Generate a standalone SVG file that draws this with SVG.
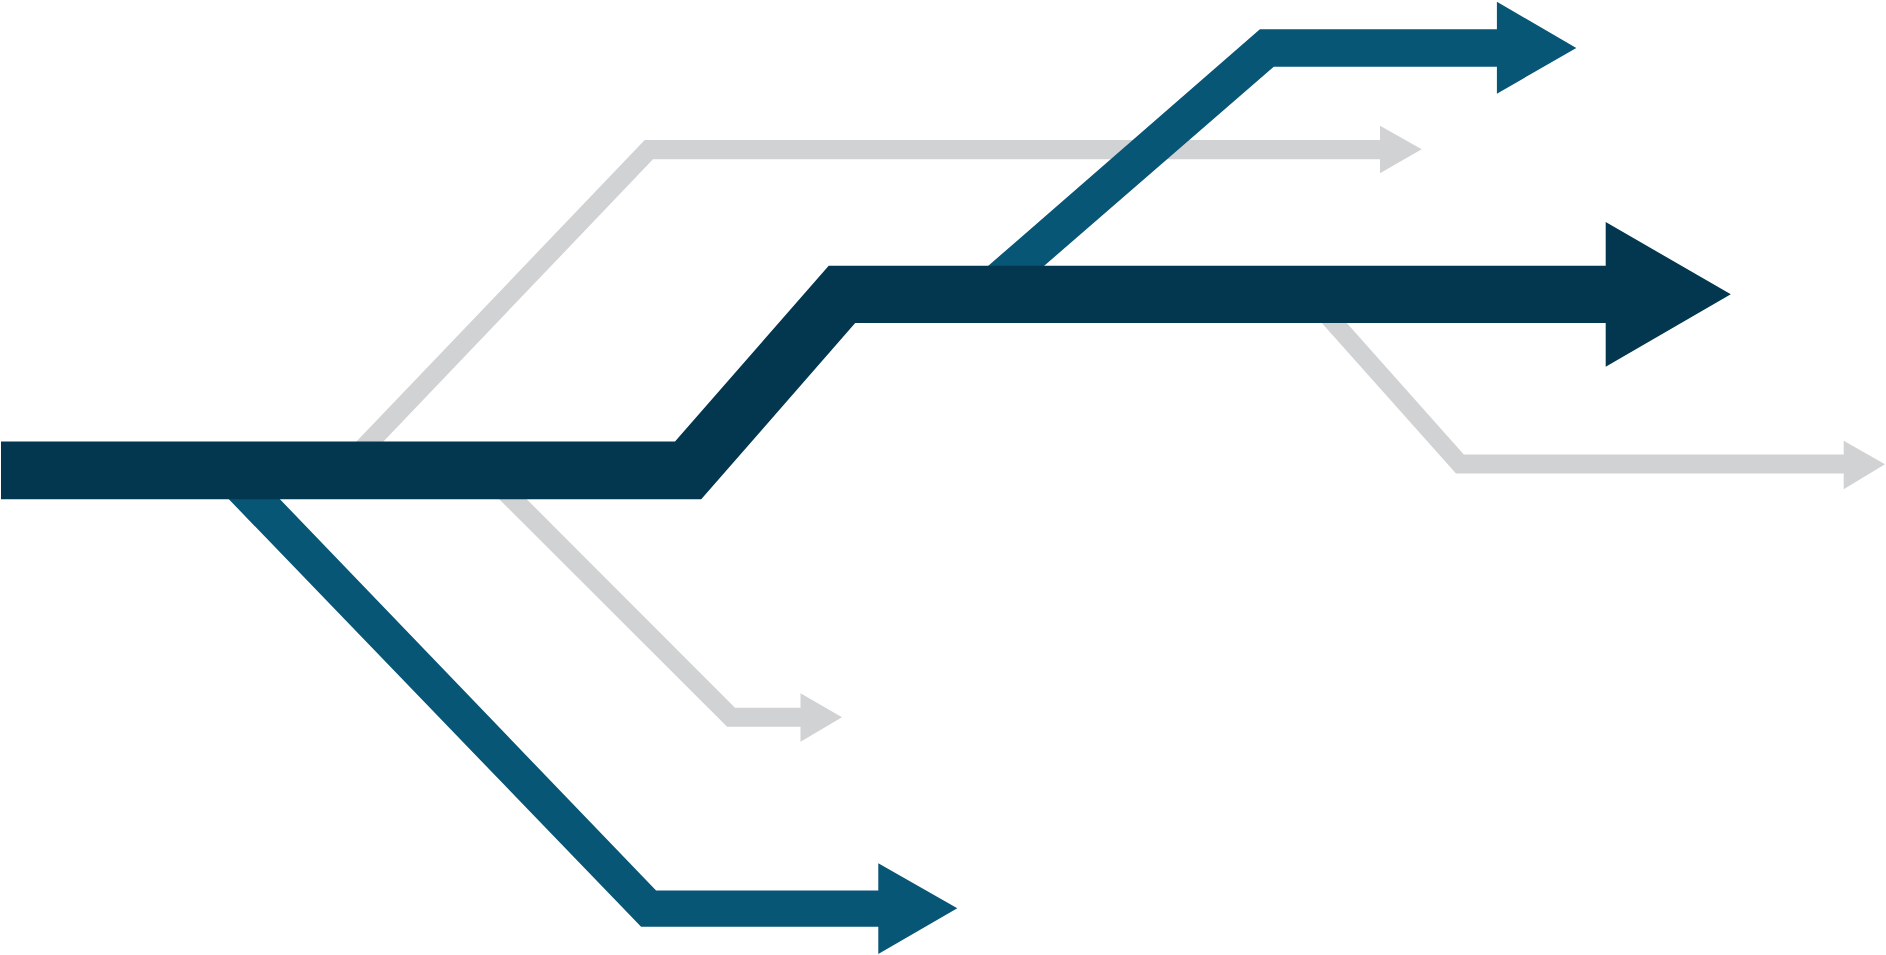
<svg xmlns="http://www.w3.org/2000/svg" width="1886" height="955" viewBox="0 0 1886 955">
<style>
.gray{fill:#D1D2D4}
.mid{fill:#085676}
.dark{fill:#02374F}
</style>
<rect width="1886" height="955" fill="#FFFFFF"/>
<g id="connectors">
<g id="gray-top"><polygon class="gray" points="355,443 644.7,140 1380,140 1380,125.7 1421.7,149.3 1380,173.3 1380,159.3 653,159.3 382,443"/></g>
<g id="gray-right"><polygon class="gray" points="1320,321 1345,321 1463.8,454.5 1843.7,454.5 1843.7,440.7 1885,464.3 1843.7,489.3 1843.7,473.5 1456,473.5"/></g>
<g id="gray-bottom"><polygon class="gray" points="497,497 524.5,497 735,707.7 800.5,707.7 800.5,693.3 842,717.3 800.5,741.7 800.5,726.7 727.1,726.7"/></g>
<g id="blue-top"><polygon class="mid" points="986.9,267 1259.9,29.3 1496.9,29.3 1496.9,1.7 1576.3,48 1496.9,93.7 1496.9,66.7 1273.8,66.7 1042.8,267"/></g>
<g id="blue-bottom"><polygon class="mid" points="226.7,497 277.8,497 656.1,890.6 878.3,890.6 878.3,863.3 957.3,908.3 878.3,954 878.3,926.8 641.1,926.8"/></g>
<g id="main"><polygon class="dark" points="1,441.5 675,441.5 828.7,265.7 1605.7,265.7 1605.7,222 1730.8,294.3 1605.7,366.7 1605.7,323 855.2,323 701.2,499.3 1,499.3"/></g>
</g>
</svg>
